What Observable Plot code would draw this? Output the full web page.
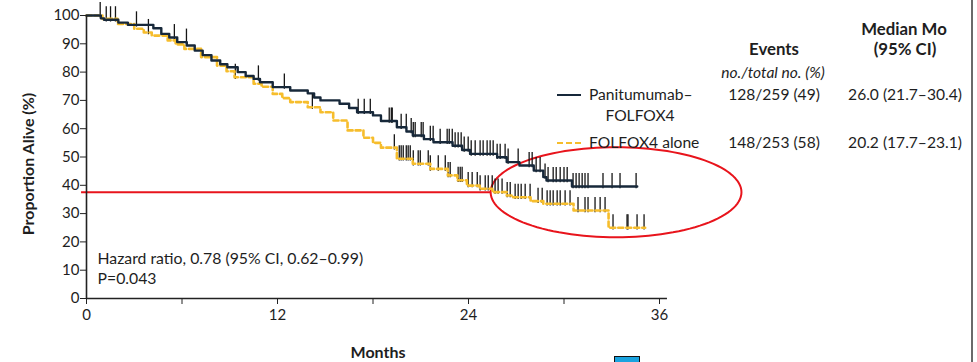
<!DOCTYPE html>
<html>
<head>
<meta charset="utf-8">
<script src="https://cdn.jsdelivr.net/npm/d3@7"></script>
<script src="https://cdn.jsdelivr.net/npm/@observablehq/plot@0.6"></script>
<style>
  body { margin: 0; background: #fff; }
  #wrap { position: relative; width: 977px; height: 362px; overflow: hidden; font-family: Lato, "Open Sans", sans-serif; color: #1e1e1e; background: #fff; }
  .lg { position: absolute; white-space: nowrap; font-size: 15.6px; line-height: 1; }
  .c { transform: translate(-50%, -50%); text-align: center; }
  .l { transform: translate(0, -50%); }
  .b { font-weight: 700; font-size: 16.8px; }
  .i { font-style: italic; }
</style>
</head>
<body>
<div id="wrap"></div>
<script>
// ---- data ----
const panTimes = [0,0.9,1.1,2.0,2.6,3.7,4.2,4.7,5.2,5.7,6.3,6.8,7.3,7.85,8.4,8.85,9.5,10.0,10.5,10.9,11.7,12.8,13.9,14.3,14.7,15.9,16.5,17.0,18.0,18.5,19.5,20.1,20.5,21.2,21.8,23.0,23.6,24.1,25.8,26.4,27.2,28.1,28.7,28.9,30.5,34.6];
const panSurv  = [100,99,98.5,97.5,96.7,96.7,95.5,93.5,92.2,90.6,89.4,87.6,86,84.1,82.8,81.7,80,78.6,77.6,76.4,74.7,73.5,72.5,71,70,68.8,67.3,65.8,64.7,62.7,60.5,59,57.6,56.3,55.2,54,52.5,51.1,49.9,48.2,47,45.2,42.9,41.7,39.6,39.6];
const folTimes = [0,1.0,1.95,3.0,3.6,4.1,5.1,5.6,6.15,7.2,8.2,8.8,9.3,10.5,11.0,11.7,12.3,12.8,13.9,14.7,15.5,16.4,17.4,18.0,18.5,19.5,20.5,21.6,22.7,23.3,23.9,24.7,25.5,26.4,26.8,27.9,28.7,30.6,32.8,35.1];
const folSurv  = [100,98.8,97,95.3,94,92.9,91.2,89.8,88.2,85.3,82.3,80.3,78.2,75.9,74.8,72.3,70.8,69.4,67.6,65.8,62.9,59.4,56.8,55.0,53.3,49.4,47.6,45.8,43.5,41.8,39.9,38.8,37.6,36.4,35.8,34.4,33.5,31.1,25,25];
const panCensor = [0.86,1.24,1.51,1.82,3.14,5.52,6.28,10.8,12.43,17.07,17.45,17.83,19.02,19.15,19.21,19.77,20.09,20.4,20.53,20.65,21.03,21.15,21.6,21.78,22.22,22.66,22.79,22.98,23.16,23.35,23.54,23.73,23.98,24.17,24.42,24.73,24.92,25.17,25.36,25.55,25.8,25.99,26.3,26.49,27.12,27.81,28.0,28.25,28.5,28.81,29.0,29.32,29.51,29.76,30.0,30.2,30.57,30.76,30.95,31.14,31.32,31.51,32.45,33.02,33.52,34.53];
const folCensor = [3.89,9.35,14.19,19.34,19.65,19.77,19.9,20.09,20.21,20.34,20.53,20.84,20.97,21.47,21.6,22.1,22.54,22.72,22.85,23.35,23.48,23.6,23.98,24.23,24.55,24.73,25.05,25.24,25.49,25.67,25.86,26.11,26.43,26.62,26.93,27.12,27.31,27.56,27.87,28.37,28.63,28.94,29.13,29.32,29.57,29.76,30.07,30.38,30.88,31.32,31.51,31.95,32.27,32.58,33.08,33.96,34.02,34.59,35.03];
const xTicks = [0,6,12,18,24,30,36];
const xTickLabels = ["0","","12","","24","","36"];
const yTicks = [0,10,20,30,40,50,60,70,80,90,100];
const hazardLines = ["Hazard ratio, 0.78 (95% CI, 0.62\u20130.99)", "P=0.043"];
// hand-drawn red annotation (in data units: months, percent)
const redLineY = 37.56, redLineX1 = -0.31, redLineX2 = 25.39;
const ellipseC = [33.27, 37.56], ellipseR = [7.88, 15.9];

// ---- helpers ----
const toRows = (ts, ss) => ts.map((t, i) => ({t, s: ss[i]}));
const stepAt = (ts, ss, t) => ss[Math.max(0, d3.bisectRight(ts, t) - 1)];
const pan = toRows(panTimes, panSurv);
const fol = toRows(folTimes, folSurv);
const panC = panCensor.map(t => ({t, s: stepAt(panTimes, panSurv, t)}));
const folC = folCensor.map(t => ({t, s: stepAt(folTimes, folSurv, t)}));
const ellipse = d3.range(0, 361, 3).map(a => {
  const r = a * Math.PI / 180;
  return {t: ellipseC[0] + ellipseR[0] * Math.cos(r), s: ellipseC[1] + ellipseR[1] * Math.sin(r)};
});

const plot = Plot.plot({
  width: 977,
  height: 362,
  marginTop: 15,
  marginBottom: 64,
  marginLeft: 86,
  marginRight: 318,
  style: {fontFamily: "Lato, 'Open Sans', sans-serif", fontSize: "15px", color: "#1e1e1e", background: "transparent", overflow: "visible"},
  x: {domain: [0, 36]},
  y: {domain: [0, 100]},
  marks: [
    Plot.ruleY([redLineY], {x1: redLineX1, x2: redLineX2, stroke: "#e8141c", strokeWidth: 2}),
    Plot.line(ellipse, {x: "t", y: "s", stroke: "#e8141c", strokeWidth: 2, curve: "linear"}),
    Plot.ruleX(panC, {x: "t", y1: d => d.s - 0.8, y2: d => d.s + 4.6, stroke: "#151515", strokeWidth: 1.3}),
    Plot.ruleX(folC, {x: "t", y1: d => d.s - 0.8, y2: d => d.s + 4.6, stroke: "#151515", strokeWidth: 1.3}),
    Plot.line(fol, {x: "t", y: "s", curve: "step-after", stroke: "#f6bd2c", strokeWidth: 2.6, strokeDasharray: "5,3"}),
    Plot.line(pan, {x: "t", y: "s", curve: "step-after", stroke: "#17283a", strokeWidth: 2.4}),
    Plot.ruleX([0], {y1: 0, y2: 100, stroke: "#222", strokeWidth: 1.6}),
    Plot.ruleY([0], {x1: 0, x2: 36.5, stroke: "#222", strokeWidth: 1.6}),
    Plot.axisY({ticks: yTicks, tickSize: 6, tickPadding: 1, fontSize: 15, label: null, stroke: "#222"}),
    Plot.axisX({ticks: xTicks, tickFormat: d => xTickLabels[xTicks.indexOf(d)], tickSize: 6, tickPadding: 5, fontSize: 15, label: null, stroke: "#222"}),
    Plot.text(["Months"], {frameAnchor: "bottom", dx: 5, dy: 54, fontWeight: 700, fontSize: 16, lineAnchor: "middle"}),
    Plot.text(["Proportion Alive (%)"], {frameAnchor: "left", dx: -58, dy: 7, rotate: -90, textAnchor: "middle", fontWeight: 700, fontSize: 16, lineAnchor: "middle"}),
    Plot.text([hazardLines[0]], {frameAnchor: "bottom-left", dx: 11, dy: -40, textAnchor: "start", lineAnchor: "middle", fontSize: 15.8}),
    Plot.text([hazardLines[1]], {frameAnchor: "bottom-left", dx: 11, dy: -20, textAnchor: "start", lineAnchor: "middle", fontSize: 15.8})
  ]
});
const wrap = document.getElementById("wrap");
plot.style.position = "absolute";
plot.style.left = "0px";
plot.style.top = "0px";
wrap.appendChild(plot);

// ---- legend / table (HTML) ----
const legendRows = [
  {name: ["Panitumumab\u2013", "FOLFOX4"], events: "128/259 (49)", median: "26.0 (21.7\u201330.4)", dash: false},
  {name: ["FOLFOX4 alone"], events: "148/253 (58)", median: "20.2 (17.7\u201323.1)", dash: true}
];
function add(cls, text, x, y, extra) {
  const d = document.createElement("div");
  d.className = "lg " + cls;
  d.textContent = text;
  d.style.left = x + "px";
  d.style.top = y + "px";
  if (extra) Object.assign(d.style, extra);
  wrap.appendChild(d);
  return d;
}
add("c b", "Median Mo", 904, 29);
add("c b", "(95% CI)", 905, 49);
add("c b", "Events", 774, 49);
add("c i", "no./total no. (%)", 773, 73);
const rowY = [95, 143];
legendRows.forEach((r, i) => {
  const y = rowY[i];
  const s = document.createElement("div");
  s.style.cssText = `position:absolute;left:557px;top:${y - 1}px;width:24px;height:0;border-top:${r.dash ? "2.5px dashed #f6bd2c" : "2.5px solid #17283a"};`;
  wrap.appendChild(s);
  add("l", r.name[0], 589, y);
  if (r.name[1]) add("c", r.name[1], 640, y + 21);
  add("c", r.events, 774, y);
  add("c", r.median, 905, y);
});
// scan artifacts: right page edge and a small blue marker at the bottom
const edge = document.createElement("div");
edge.style.cssText = "position:absolute;left:971px;top:0;width:1.5px;height:362px;background:#6a6a6a;";
wrap.appendChild(edge);
const blue = document.createElement("div");
blue.style.cssText = "position:absolute;left:614px;top:356px;width:24px;height:10px;background:#1aa3df;border:1.5px solid #111;";
wrap.appendChild(blue);
</script>
</body>
</html>
